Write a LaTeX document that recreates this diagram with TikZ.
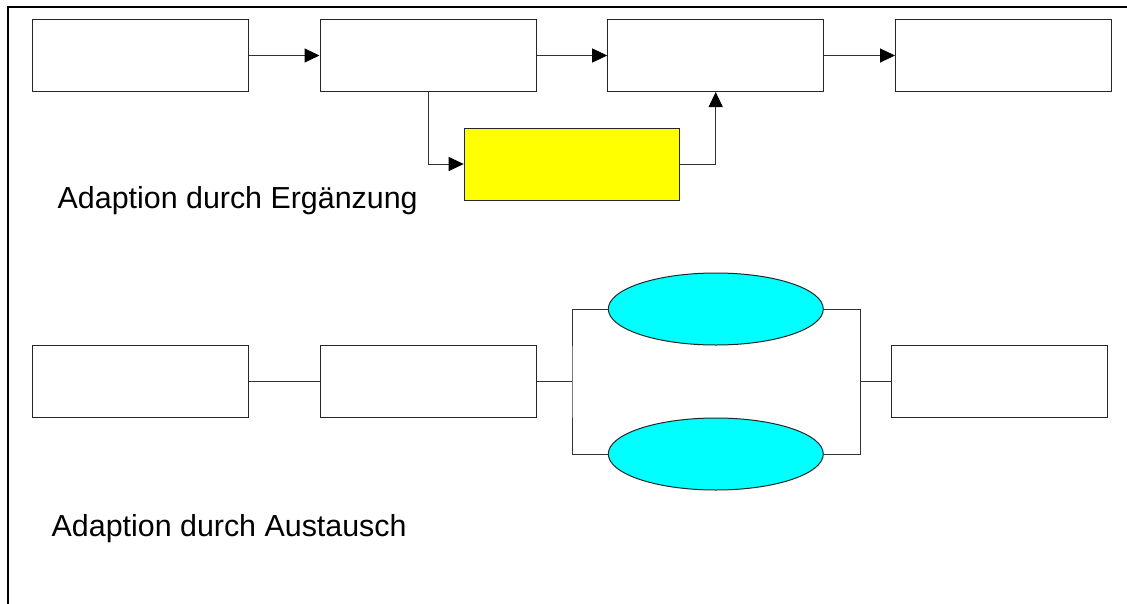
\documentclass[tikz,border=0pt]{standalone}
\usepackage{fontspec}
\setmainfont{Liberation Sans}
\usetikzlibrary{arrows.meta,shapes.geometric}
\definecolor{yfill}{RGB}{255,255,0}
\definecolor{cfill}{RGB}{0,255,255}
\tikzset{
  box/.style={draw=black!85, line width=1pt, fill=white, rectangle, inner sep=0pt, minimum width=216pt, minimum height=72pt},
  ybox/.style={box, fill=yfill},
  ell/.style={draw=black!85, line width=1pt, fill=cfill, ellipse, inner sep=0pt, minimum width=215pt, minimum height=72pt},
  conn/.style={draw=black!80, line width=1pt},
  arr/.style={conn, -{Triangle[length=15pt,width=14pt,color=black]}},
  lbl/.style={font=\fontsize{30.4}{36}\selectfont, inner sep=0pt, anchor=base west},
  frame/.style={draw=black, line width=2pt}
}
\begin{document}
\begin{tikzpicture}[x=1pt,y=-1pt]
\useasboundingbox (0,0) rectangle (1127,603);
\clip (0,0) rectangle (1127,603);
\fill[white] (0,0) rectangle (1127,603);
\draw[frame] (1140,7) -- (8,7) -- (8,620);
% top row
\node[box] (t1) at (140.5,55.5) {};
\node[box] (t2) at (428,55.5) {};
\node[box] (t3) at (715.7,55.5) {};
\node[box] (t4) at (1003.5,55.5) {};
\node[ybox, minimum width=215pt] (y) at (571.7,164) {};
\draw[arr] (t1) -- (t2);
\draw[arr] (t2) -- (t3);
\draw[arr] (t3) -- (t4);
\draw[arr] (t2.south) |- (y.west);
\draw[arr] (y.east) -| (t3.south);
\node[lbl] (l1) at (57.5,208) {Adaption durch Ergänzung};
% bottom row
\node[box] (b1) at (140.5,381.5) {};
\node[box] (b2) at (428,381.5) {};
\node[box] (b3) at (999.3,381.5) {};
\node[ell] (e1) at (715.8,309) {};
\node[ell] (e2) at (715.8,454) {};
\coordinate (jl) at (572,381.5);
\coordinate (jr) at (860,381.5);
\draw[conn] (b1) -- (b2);
\draw[conn] (b2) -- (jl);
\draw[conn] (e1.west) -| (jl) |- (e2.west);
\draw[conn] (e1.east) -| (jr) |- (e2.east);
\draw[conn] (jr) -- (b3);
\node[lbl] (l2) at (51.5,536) {Adaption durch Austausch};
\end{tikzpicture}
\end{document}
